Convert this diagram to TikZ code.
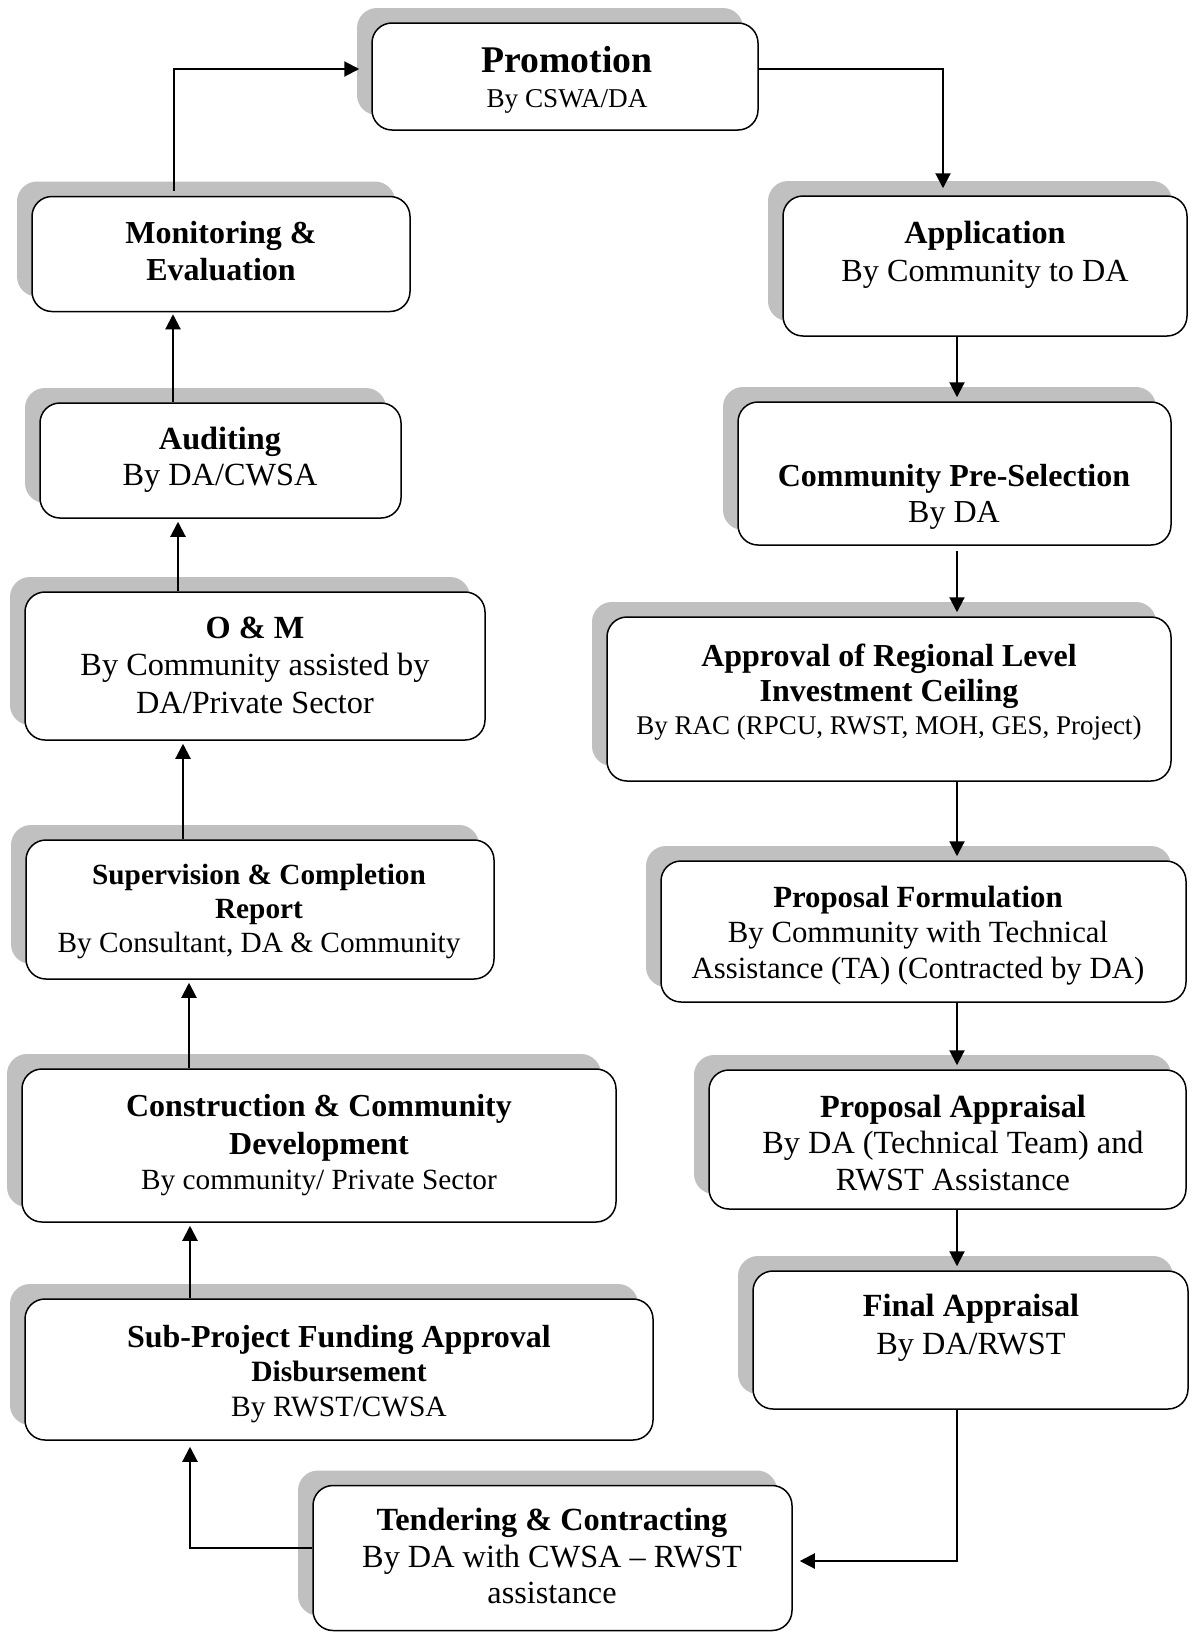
\documentclass[tikz,border=0pt]{standalone}
\usepackage{fontspec}
\setmainfont{Liberation Serif}
\usetikzlibrary{arrows.meta,shadows}
\definecolor{shadowgray}{RGB}{192,192,192}
\newcommand\fs[2]{\fontsize{#1}{#2}\selectfont}
\begin{document}
\begin{tikzpicture}[x=1pt,y=-1pt,
  box/.style={draw=black, line width=1.5pt, rounded corners=20pt, fill=white,
    drop shadow={shadow xshift=-15pt, shadow yshift=15pt, fill=shadowgray, opacity=1}},
  txt/.style={align=center, inner sep=0pt},
  arr/.style={line width=2.1pt, -{Triangle[length=15pt,width=15pt]}}]
\useasboundingbox[fill=white] (0,0) rectangle (1203,1633);

% ---- boxes ----
\node[box, minimum width=386pt, minimum height=107pt] (promo)  at (565,76.5) {};
\node[box, minimum width=404pt, minimum height=140pt] (appl)   at (985,266) {};
\node[box, minimum width=433pt, minimum height=143pt] (presel) at (954.5,473.5) {};
\node[box, minimum width=564pt, minimum height=164pt] (approv) at (889,699) {};
\node[box, minimum width=525pt, minimum height=141pt] (pform)  at (923.5,931.5) {};
\node[box, minimum width=477pt, minimum height=139pt] (pappr)  at (947.5,1139.5) {};
\node[box, minimum width=435pt, minimum height=138pt] (final)  at (970.5,1340) {};
\node[box, minimum width=479pt, minimum height=145pt] (tend)   at (552.5,1558) {};
\node[box, minimum width=628pt, minimum height=141pt] (subp)   at (339,1369.5) {};
\node[box, minimum width=594pt, minimum height=153pt] (constr) at (319,1145.5) {};
\node[box, minimum width=468pt, minimum height=139pt] (superv) at (260,909.5) {};
\node[box, minimum width=460pt, minimum height=148pt] (om)     at (255,666) {};
\node[box, minimum width=361pt, minimum height=115pt] (audit)  at (220.5,460.5) {};
\node[box, minimum width=378pt, minimum height=115pt] (monit)  at (221,254) {};

% ---- texts ----
\node[txt, font=\fs{37.7}{35}] (promoT) at (567,80)
  {{\bfseries Promotion}\\{\fs{27.2}{35}By CSWA/DA}};
\node[txt, font=\fs{32.2}{37.5}] (applT) at (985,255)
  {{\bfseries Application}\\By Community to DA};
\node[txt, font=\fs{32}{36.5}] (preselT) at (954,497)
  {{\bfseries Community Pre-Selection}\\By DA};
\node[txt, font=\fs{32}{35.4}] (approvT) at (889,692)
  {{\bfseries Approval of Regional Level}\\{\bfseries Investment Ceiling}\\[-2.5pt]{\fs{27}{35}By RAC (RPCU, RWST, MOH, GES, Project)}};
\node[txt, font=\fs{30.8}{35.4}] (pformT) at (918,935.5)
  {{\bfseries Proposal Formulation}\\By Community with Technical\\Assistance (TA) (Contracted by DA)};
\node[txt, font=\fs{32.3}{36.5}] (papprT) at (953,1143)
  {{\bfseries Proposal Appraisal}\\By DA (Technical Team) and\\RWST Assistance};
\node[txt, font=\fs{32.3}{37.5}] (finalT) at (971,1328)
  {{\bfseries Final Appraisal}\\By DA/RWST};
\node[txt, font=\fs{32.3}{36.5}] (tendT) at (552,1556)
  {{\bfseries Tendering \& Contracting}\\By DA with CWSA -- RWST\\assistance};
\node[txt, font=\fs{29.5}{34.4}] (subpT) at (339,1374)
  {{\fs{32}{34.4}\bfseries Sub-Project Funding Approval}\\{\bfseries Disbursement}\\By RWST/CWSA};
\node[txt, font=\fs{32}{37.5}] (constrT) at (319,1145)
  {{\bfseries Construction \& Community}\\{\bfseries Development}\\[-2.5pt]{\fs{29.3}{35}By community/ Private Sector}};
\node[txt, font=\fs{29.3}{34.4}] (supervT) at (259,911.5)
  {{\bfseries Supervision \& Completion}\\{\bfseries Report}\\By Consultant, DA \& Community};
\node[txt, font=\fs{32.3}{37.5}] (omT) at (255,665)
  {{\bfseries O \& M}\\By Community assisted by\\DA/Private Sector};
\node[txt, font=\fs{32.3}{36.5}] (auditT) at (220,460)
  {{\bfseries Auditing}\\By DA/CWSA};
\node[txt, font=\fs{32}{37.5}] (monitT) at (221,251)
  {{\bfseries Monitoring \&}\\{\bfseries Evaluation}};

% ---- guide coordinates ----
\coordinate (ytop) at (0,69);
\coordinate (xb) at (943,0);
\coordinate (xr) at (957,0);
\coordinate (ybot) at (0,1561);
\coordinate (yt) at (0,1548);
\coordinate (xl0) at (174,0);
\coordinate (xl1) at (173,0);
\coordinate (xl2) at (178,0);
\coordinate (xl3) at (183,0);
\coordinate (xl4) at (189,0);
\coordinate (xl5) at (190,0);
\coordinate (xl6) at (190,0);

% ---- connectors ----
\draw[arr, shorten >=12pt, shorten <=5pt] (monit.north -| xl0) |- (promo.west |- ytop);
\draw[arr, shorten >=7pt] (promo.east |- ytop) -| (appl.north -| xb);
\draw[arr, shorten >=4pt] (appl.south -| xr) -- (presel.north -| xr);
\draw[arr, shorten >=4pt, shorten <=5pt] (presel.south -| xr) -- (approv.north -| xr);
\draw[arr, shorten >=4pt] (approv.south -| xr) -- (pform.north -| xr);
\draw[arr, shorten >=4pt] (pform.south -| xr) -- (pappr.north -| xr);
\draw[arr, shorten >=4pt] (pappr.south -| xr) -- (final.north -| xr);
\draw[arr, shorten >=7pt] (final.south -| xr) |- (tend.east |- ybot);
\draw[arr, shorten >=6pt] (tend.west |- yt) -| (subp.south -| xl6);
\draw[arr, shorten >=3pt] (subp.north -| xl5) -- (constr.south -| xl5);
\draw[arr, shorten >=3pt] (constr.north -| xl4) -- (superv.south -| xl4);
\draw[arr, shorten >=3pt] (superv.north -| xl3) -- (om.south -| xl3);
\draw[arr, shorten >=3pt] (om.north -| xl2) -- (audit.south -| xl2);
\draw[arr, shorten >=2pt] (audit.north -| xl1) -- (monit.south -| xl1);
\end{tikzpicture}
\end{document}
